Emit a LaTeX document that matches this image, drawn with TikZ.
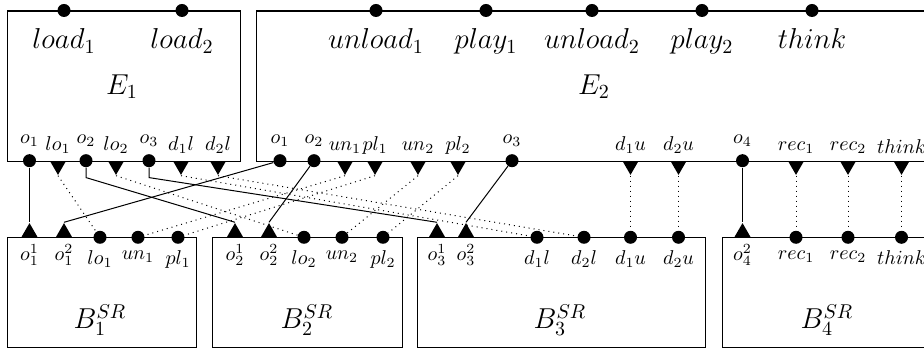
\documentclass[tikz,border=0pt]{standalone}
\usetikzlibrary{shapes.geometric}

\begin{document}
\begin{tikzpicture}[
    x=0.5pt, y=-0.5pt,
    box/.style={draw, line width=0.6pt, inner sep=0pt, anchor=north west},
    dot/.style={circle, fill, inner sep=0pt, minimum size=6.5pt},
    act/.style={dot, label distance=1.5pt},
    tdown/.style={regular polygon, regular polygon sides=3, shape border rotate=180,
                  fill, inner sep=0pt, minimum size=9.2pt, anchor=side 2},
    tup/.style={regular polygon, regular polygon sides=3,
                fill, inner sep=0pt, minimum size=9.2pt, anchor=side 2},
    conn/.style={line width=0.5pt},
    sync/.style={line width=0.5pt, dotted},
    lab/.style={font=\normalsize, inner sep=1pt},
    big/.style={font=\Large},
    label distance=2.2pt
]
\useasboundingbox (0,0) rectangle (924,351);
\clip (0,0) rectangle (924,351);
% ---------------- components ----------------
\node[box, minimum width=116.5pt, minimum height=75.1pt] (E1) at (7,10.5) {};
\node[box, minimum width=342pt, minimum height=75.1pt] (E2) at (256,10.5) {};
\node[big] (nE1) at (122,87) {$E_1$};
\node[big] (nE2) at (594,87) {$E_2$};
\node[act, label={[big]below:$load_1$}] (load1) at (64,10.5) {};
\node[act, label={[big]below:$load_2$}] (load2) at (182,10.5) {};
\node[act, label={[big]below:$unload_1$}] (unload1) at (376,10.5) {};
\node[act, label={[big]below:$play_1$}] (play1) at (486,10.5) {};
\node[act, label={[big]below:$unload_2$}] (unload2) at (592,10.5) {};
\node[act, label={[big]below:$play_2$}] (play2) at (702,10.5) {};
\node[act, label={[big]below:$think$}] (think) at (812,10.5) {};
% ports of E1
\node[dot,   label={[lab]above:$o_1$}]  (e1o1)  at (29.5,160.7) {};
\node[tdown, label={[lab]above:$lo_1$}] (e1lo1) at (58,160.7) {};
\node[dot,   label={[lab]above:$o_2$}]  (e1o2)  at (86,160.7) {};
\node[tdown, label={[lab]above:$lo_2$}] (e1lo2) at (116,160.7) {};
\node[dot,   label={[lab]above:$o_3$}]  (e1o3)  at (149,160.7) {};
\node[tdown, label={[lab]above:$d_1l$}] (e1dl1) at (181,160.7) {};
\node[tdown, label={[lab]above:$d_2l$}] (e1dl2) at (218,160.7) {};
% ports of E2
\node[dot,   label={[lab]above:$o_1$}]   (e2o1)   at (280,160.7) {};
\node[dot,   label={[lab]above:$o_2$}]   (e2o2)   at (314,160.7) {};
\node[tdown, label={[lab]above:$un_1$}]  (e2un1)  at (345,160.7) {};
\node[tdown, label={[lab]above:$pl_1$}]  (e2pl1)  at (375,160.7) {};
\node[tdown, label={[lab]above:$un_2$}]  (e2un2)  at (418,160.7) {};
\node[tdown, label={[lab]above:$pl_2$}]  (e2pl2)  at (458,160.7) {};
\node[dot,   label={[lab]above:$o_3$}]   (e2o3)   at (512,160.7) {};
\node[tdown, label={[lab]above:$d_1u$}]  (e2du1)  at (630.5,160.7) {};
\node[tdown, label={[lab]above:$d_2u$}]  (e2du2)  at (678.5,160.7) {};
\node[dot,   label={[lab]above:$o_4$}]   (e2o4)   at (742.5,160.7) {};
\node[tdown, label={[lab]above:$rec_1$}] (e2rec1) at (796,160.7) {};
\node[tdown, label={[lab]above:$rec_2$}] (e2rec2) at (848,160.7) {};
\node[tdown, label={[lab]above:$think$}] (e2think) at (901.5,160.7) {};
% ---------------- buffers ----------------
\node[box, minimum width=94.5pt, minimum height=54.9pt] (B1) at (7,237.3) {};
\node[box, minimum width=95pt, minimum height=54.9pt] (B2) at (212,237.3) {};
\node[box, minimum width=144pt, minimum height=54.9pt] (B3) at (417,237.3) {};
\node[box, minimum width=109pt, minimum height=54.9pt] (B4) at (722,237.3) {};
\node[big] (nB1) at (100,320) {$B_1^{SR}$};
\node[big] (nB2) at (307,320) {$B_2^{SR}$};
\node[big] (nB3) at (560,320) {$B_3^{SR}$};
\node[big] (nB4) at (827,320) {$B_4^{SR}$};
% ports of B1
\node[tup, label={[lab]below:$o_1^1$}] (b1o1) at (29.5,237.3) {};
\node[tup, label={[lab]below:$o_1^2$}] (b1o2) at (64,237.3) {};
\node[dot, label={[lab]below:$lo_1$}]  (b1lo) at (100,237.3) {};
\node[dot, label={[lab]below:$un_1$}]  (b1un) at (138,237.3) {};
\node[dot, label={[lab]below:$pl_1$}]  (b1pl) at (178,237.3) {};
% ports of B2
\node[tup, label={[lab]below:$o_2^1$}] (b2o1) at (235,237.3) {};
\node[tup, label={[lab]below:$o_2^2$}] (b2o2) at (269,237.3) {};
\node[dot, label={[lab]below:$lo_2$}]  (b2lo) at (304,237.3) {};
\node[dot, label={[lab]below:$un_2$}]  (b2un) at (342,237.3) {};
\node[dot, label={[lab]below:$pl_2$}]  (b2pl) at (383,237.3) {};
% ports of B3
\node[tup, label={[lab]below:$o_3^1$}] (b3o1)  at (437,237.3) {};
\node[tup, label={[lab]below:$o_3^2$}] (b3o2)  at (466,237.3) {};
\node[dot, label={[lab]below:$d_1l$}]  (b3dl1) at (537,237.3) {};
\node[dot, label={[lab]below:$d_2l$}]  (b3dl2) at (584,237.3) {};
\node[dot, label={[lab]below:$d_1u$}]  (b3du1) at (630.5,237.3) {};
\node[dot, label={[lab]below:$d_2u$}]  (b3du2) at (678.5,237.3) {};
% ports of B4
\node[tup, label={[lab]below:$o_4^2$}]  (b4o2)    at (742.5,237.3) {};
\node[dot, label={[lab]below:$rec_1$}]  (b4rec1)  at (796,237.3) {};
\node[dot, label={[lab]below:$rec_2$}]  (b4rec2)  at (848,237.3) {};
\node[dot, label={[lab]below:$think$}]  (b4think) at (901.5,237.3) {};
% ---------------- outputs to buffers ----------------
\draw[conn] (e1o1) -- (b1o1.corner 1);
\draw[conn] (e1o2.south) -- ++(0,10) -- (b2o1.corner 1);
\draw[conn] (e1o3.south) -- ++(0,10) -- (b3o1.corner 1);
\draw[conn] (e2o1) -- (b1o2.corner 1);
\draw[conn] (e2o2) -- (b2o2.corner 1);
\draw[conn] (e2o3) -- (b3o2.corner 1);
\draw[conn] (e2o4) -- (b4o2.corner 1);
% ---------------- synchronisations ----------------
\draw[sync] (e1lo1.corner 1) -- (b1lo);
\draw[sync] (e1lo2.corner 1) -- (b2lo);
\draw[sync] (e1dl1.corner 1) -- (b3dl1);
\draw[sync] (e1dl2.corner 1) -- (b3dl2);
\draw[sync] (e2un1.corner 1) -- (b1un);
\draw[sync] (e2pl1.corner 1) -- (b1pl);
\draw[sync] (e2un2.corner 1) -- (b2un);
\draw[sync] (e2pl2.corner 1) -- (b2pl);
\draw[sync] (e2du1.corner 1) -- (b3du1);
\draw[sync] (e2du2.corner 1) -- (b3du2);
\draw[sync] (e2rec1.corner 1) -- (b4rec1);
\draw[sync] (e2rec2.corner 1) -- (b4rec2);
\draw[sync] (e2think.corner 1) -- (b4think);
\end{tikzpicture}
\end{document}
